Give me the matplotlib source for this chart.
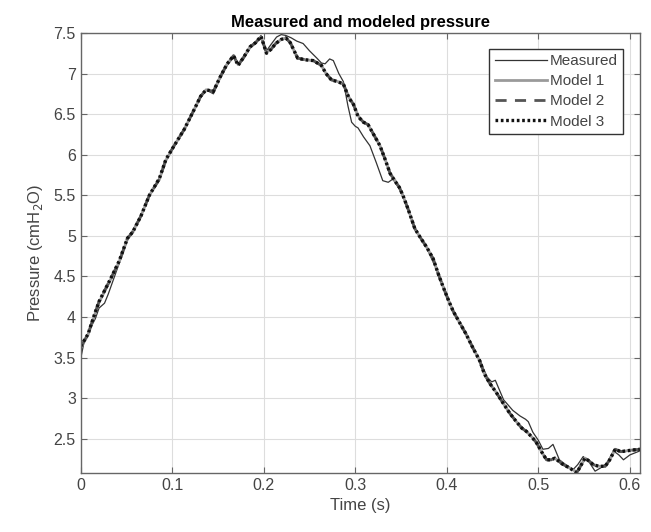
import numpy as np
import matplotlib.pyplot as plt

plt.rcParams['font.family'] = ['Liberation Sans', 'DejaVu Sans']

# model time base and values (the three models nearly overlap)
t_model = [0.000, 0.008, 0.015, 0.020, 0.033, 0.042, 0.051, 0.057, 0.066, 0.075,
           0.086, 0.093, 0.102, 0.113, 0.125, 0.131, 0.137, 0.145, 0.152, 0.160,
           0.167, 0.172, 0.178, 0.185, 0.191, 0.197, 0.203, 0.208, 0.213, 0.219,
           0.224, 0.229, 0.237, 0.245, 0.254, 0.263, 0.268, 0.274, 0.281, 0.287,
           0.293, 0.298, 0.303, 0.309, 0.314, 0.320, 0.327, 0.333, 0.338, 0.343,
           0.348, 0.352, 0.358, 0.365, 0.371, 0.378, 0.385, 0.391, 0.396, 0.402,
           0.407, 0.414, 0.421, 0.428, 0.436, 0.441, 0.447, 0.454, 0.462, 0.469,
           0.476, 0.482, 0.487, 0.493, 0.498, 0.504, 0.509, 0.514, 0.518, 0.526,
           0.534, 0.542, 0.547, 0.551, 0.556, 0.560, 0.566, 0.573, 0.578, 0.584,
           0.590, 0.596, 0.603, 0.611]

model1 = [3.62, 3.78, 4.02, 4.18, 4.47, 4.68, 4.96, 5.05, 5.25, 5.50,
          5.70, 5.93, 6.11, 6.31, 6.58, 6.72, 6.80, 6.78, 6.95, 7.12,
          7.22, 7.11, 7.20, 7.33, 7.38, 7.45, 7.26, 7.30, 7.37, 7.42,
          7.44, 7.38, 7.19, 7.17, 7.16, 7.10, 7.00, 6.93, 6.90, 6.87,
          6.71, 6.62, 6.48, 6.40, 6.37, 6.25, 6.11, 5.93, 5.77, 5.69,
          5.60, 5.50, 5.32, 5.09, 4.98, 4.86, 4.72, 4.52, 4.37, 4.20,
          4.07, 3.93, 3.79, 3.63, 3.46, 3.30, 3.18, 3.07, 2.93, 2.81,
          2.71, 2.63, 2.59, 2.52, 2.45, 2.33, 2.24, 2.24, 2.26, 2.19,
          2.14, 2.09, 2.18, 2.26, 2.22, 2.18, 2.16, 2.16, 2.24, 2.37,
          2.34, 2.35, 2.36, 2.37]

model2 = [3.63, 3.79, 4.03, 4.19, 4.48, 4.68, 4.97, 5.05, 5.25, 5.50,
          5.70, 5.94, 6.11, 6.31, 6.58, 6.72, 6.80, 6.78, 6.95, 7.12,
          7.22, 7.10, 7.20, 7.33, 7.38, 7.46, 7.25, 7.30, 7.37, 7.42,
          7.44, 7.38, 7.19, 7.17, 7.16, 7.10, 7.00, 6.92, 6.90, 6.87,
          6.70, 6.62, 6.47, 6.40, 6.37, 6.25, 6.11, 5.93, 5.77, 5.68,
          5.60, 5.50, 5.32, 5.09, 4.98, 4.86, 4.72, 4.52, 4.37, 4.20,
          4.07, 3.93, 3.79, 3.63, 3.46, 3.30, 3.18, 3.07, 2.93, 2.81,
          2.71, 2.63, 2.59, 2.52, 2.45, 2.33, 2.24, 2.24, 2.26, 2.19,
          2.14, 2.08, 2.18, 2.26, 2.22, 2.18, 2.16, 2.16, 2.24, 2.37,
          2.34, 2.35, 2.36, 2.37]

model3 = [3.64, 3.79, 4.03, 4.19, 4.48, 4.69, 4.97, 5.05, 5.25, 5.50,
          5.71, 5.94, 6.11, 6.31, 6.58, 6.72, 6.80, 6.78, 6.95, 7.12,
          7.22, 7.10, 7.20, 7.33, 7.38, 7.46, 7.25, 7.30, 7.37, 7.42,
          7.44, 7.38, 7.19, 7.17, 7.16, 7.10, 7.00, 6.92, 6.90, 6.87,
          6.70, 6.62, 6.47, 6.40, 6.37, 6.25, 6.11, 5.93, 5.77, 5.68,
          5.60, 5.50, 5.32, 5.09, 4.98, 4.86, 4.72, 4.52, 4.37, 4.20,
          4.07, 3.93, 3.79, 3.63, 3.46, 3.30, 3.18, 3.07, 2.93, 2.81,
          2.71, 2.63, 2.59, 2.52, 2.45, 2.33, 2.24, 2.24, 2.26, 2.19,
          2.14, 2.08, 2.18, 2.26, 2.22, 2.18, 2.16, 2.16, 2.24, 2.37,
          2.34, 2.35, 2.36, 2.37]

# measured signal
t_meas = [0.000, 0.004, 0.010, 0.016, 0.020, 0.026, 0.030, 0.042, 0.051, 0.066,
          0.075, 0.086, 0.093, 0.102, 0.113, 0.125, 0.131, 0.137, 0.145, 0.152,
          0.160, 0.167, 0.172, 0.178, 0.185, 0.191, 0.197, 0.203, 0.208, 0.214,
          0.219, 0.224, 0.230, 0.236, 0.243, 0.250, 0.258, 0.263, 0.267, 0.272,
          0.276, 0.282, 0.287, 0.292, 0.296, 0.300, 0.303, 0.309, 0.316, 0.323,
          0.330, 0.336, 0.341, 0.348, 0.352, 0.358, 0.365, 0.378, 0.391, 0.407,
          0.421, 0.436, 0.444, 0.449, 0.453, 0.456, 0.462, 0.472, 0.480, 0.486,
          0.489, 0.494, 0.500, 0.505, 0.511, 0.516, 0.523, 0.530, 0.538, 0.543,
          0.549, 0.555, 0.562, 0.568, 0.575, 0.582, 0.588, 0.593, 0.600, 0.611]

measured = [3.49, 3.71, 3.85, 3.98, 4.11, 4.17, 4.28, 4.66, 4.95, 5.26,
            5.49, 5.71, 5.93, 6.10, 6.30, 6.57, 6.70, 6.80, 6.75, 6.93,
            7.10, 7.20, 7.12, 7.18, 7.31, 7.37, 7.47, 7.28, 7.36, 7.45,
            7.48, 7.47, 7.44, 7.40, 7.37, 7.28, 7.19, 7.13, 7.12, 7.18,
            7.16, 7.00, 6.90, 6.60, 6.40, 6.35, 6.33, 6.22, 6.11, 5.90,
            5.68, 5.66, 5.70, 5.58, 5.48, 5.32, 5.09, 4.85, 4.53, 4.08,
            3.80, 3.47, 3.26, 3.20, 3.22, 3.14, 2.98, 2.85, 2.78, 2.74,
            2.71, 2.58, 2.48, 2.37, 2.38, 2.43, 2.24, 2.18, 2.12, 2.18,
            2.28, 2.22, 2.10, 2.14, 2.20, 2.35, 2.30, 2.24, 2.30, 2.35]

xticks = [0, 0.1, 0.2, 0.3, 0.4, 0.5, 0.6]
yticks = [2.5, 3, 3.5, 4, 4.5, 5, 5.5, 6, 6.5, 7, 7.5]

fig = plt.figure(figsize=(6.51, 5.32), dpi=100)
ax = fig.add_axes([0.124, 0.111, 0.859, 0.827])

ax.plot(t_meas, measured, color='#333333', lw=0.9, label='Measured')
ax.plot(t_model, model1, color='#9a9a9a', lw=2.0, label='Model 1')
ax.plot(t_model, model2, color='#555555', lw=2.0, ls=(0, (4, 3)), label='Model 2')
ax.plot(t_model, model3, color='#111111', lw=2.4, ls=(0, (0.8, 0.8)), label='Model 3')

ax.set_xlim(0, 0.611)
ax.set_ylim(2.078, 7.5)
ax.set_xticks(xticks)
ax.set_xticklabels([('%g' % v) for v in xticks])
ax.set_yticks(yticks)
ax.set_yticklabels([('%g' % v) for v in yticks])
ax.grid(True, color='#dddddd', lw=0.8)
ax.set_axisbelow(True)
ax.tick_params(direction='in', top=True, right=True, length=4,
               labelsize=11.5, colors='#666666', labelcolor='#444444')
for s in ax.spines.values():
    s.set_color('#666666')
    s.set_linewidth(1.0)

ax.set_title('Measured and modeled pressure', fontsize=12, fontweight='bold', pad=4)
ax.set_xlabel('Time (s)', fontsize=12, color='#444444', labelpad=4)
ax.set_ylabel('Pressure (cmH$_2$O)', fontsize=12, color='#444444', labelpad=6)

leg = ax.legend(loc='upper right', bbox_to_anchor=(0.97, 0.964), borderaxespad=0,
                fontsize=11, frameon=True, fancybox=False, framealpha=1,
                handlelength=3.4, handletextpad=0.2, borderpad=0.35,
                labelspacing=0.4)
leg.get_frame().set_edgecolor('#333333')
leg.get_frame().set_linewidth(1.0)
for txt in leg.get_texts():
    txt.set_color('#444444')

fig.savefig('out.png', dpi=100)
